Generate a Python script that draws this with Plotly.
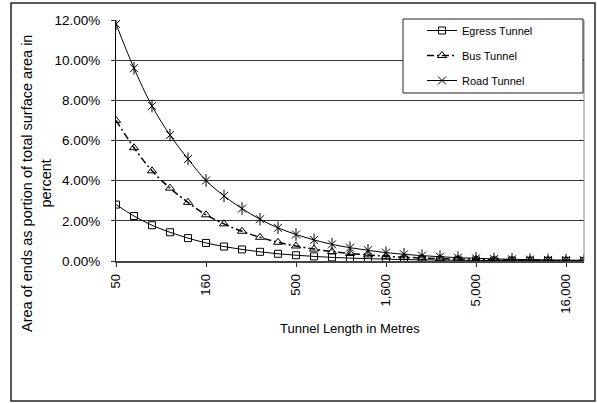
import plotly.graph_objects as go

# Tunnel lengths (category axis)
lengths = ["50", "63", "80", "100", "125", "160", "200", "250", "315", "400",
           "500", "630", "800", "1000", "1250", "1600", "2000", "2500", "3150",
           "4000", "5000", "6300", "8000", "10000", "12500", "16000", "20000"]
tick_vals = ["50", "160", "500", "1600", "5000", "16000"]
tick_text = ["50", "160", "500", "1,600", "5,000", "16,000"]
y_tick_vals = [0, 2, 4, 6, 8, 10, 12]
y_tick_text = ["0.00%", "2.00%", "4.00%", "6.00%", "8.00%", "10.00%", "12.00%"]

# Values in percent
egress = [2.81, 2.24, 1.78, 1.43, 1.14, 0.90, 0.72, 0.575, 0.457, 0.360,
          0.288, 0.229, 0.180, 0.144, 0.116, 0.090, 0.072, 0.058, 0.046,
          0.036, 0.029, 0.023, 0.018, 0.014, 0.012, 0.009, 0.007]
bus = [7.00, 5.64, 4.49, 3.63, 2.92, 2.30, 1.85, 1.48, 1.18, 0.932,
       0.747, 0.594, 0.468, 0.375, 0.300, 0.235, 0.188, 0.150, 0.119,
       0.094, 0.075, 0.060, 0.047, 0.038, 0.030, 0.024, 0.019]
road = [11.80, 9.60, 7.72, 6.27, 5.08, 4.01, 3.24, 2.61, 2.08, 1.65,
        1.32, 1.05, 0.829, 0.664, 0.532, 0.416, 0.333, 0.267, 0.212,
        0.167, 0.134, 0.106, 0.084, 0.067, 0.054, 0.042, 0.033]

FONT = "Liberation Sans, Arial, sans-serif"

fig = go.Figure()
fig.add_trace(go.Scatter(
    x=lengths, y=egress, name="Egress Tunnel", mode="lines+markers",
    legendgroup="e",
    line=dict(color="black", width=1, shape="spline"),
    marker=dict(symbol="square-open", size=7, color="black", line=dict(width=1))))
fig.add_trace(go.Scatter(
    x=lengths, y=bus, name="Bus Tunnel", mode="lines+markers",
    legendgroup="b",
    line=dict(color="black", width=1.5, shape="spline", dash="7px,3px,2px,3px"),
    marker=dict(symbol="triangle-up-open", size=8, color="black", line=dict(width=1))))
fig.add_trace(go.Scatter(
    x=lengths, y=road, name="Road Tunnel", mode="lines+markers",
    legendgroup="r",
    line=dict(color="black", width=1, shape="spline"),
    marker=dict(symbol="x-thin-open", size=8, color="black", line=dict(width=1, color="black"))))
fig.add_trace(go.Scatter(
    x=lengths, y=road, mode="markers", showlegend=False, legendgroup="r",
    marker=dict(symbol="line-ns-open", size=9, color="black", line=dict(width=1, color="black"))))

# pixel -> paper helpers (plot area: x 116..584, y 20..261)
def px(x):
    return (x - 116) / 468.0

def py(y):
    return (261 - y) / 241.0

fig.update_layout(
    width=597, height=403, autosize=False,
    margin=dict(l=116, r=13, t=20, b=142, pad=0),
    paper_bgcolor="white", plot_bgcolor="white",
    font=dict(family=FONT, size=13, color="black"),
    showlegend=True,
    legend=dict(x=px(422), y=py(16), xanchor="left", yanchor="top",
                bgcolor="rgba(0,0,0,0)", borderwidth=0,
                font=dict(size=11, family=FONT), tracegroupgap=6,
                traceorder="grouped"),
    xaxis=dict(type="category", range=[0, 26], tickmode="array",
               tickvals=tick_vals, ticktext=tick_text, tickangle=-90,
               ticks="outside", ticklen=4, tickcolor="#333",
               showgrid=False, showline=True, linecolor="#444", linewidth=1.5,
               tickfont=dict(size=13), zeroline=False, ticklabelstandoff=2),
    yaxis=dict(range=[0, 12], tickmode="array",
               tickvals=y_tick_vals, ticktext=y_tick_text,
               ticks="outside", ticklen=4, tickcolor="#333",
               showgrid=True, gridcolor="#333", gridwidth=1,
               showline=True, linecolor="black", linewidth=1,
               zeroline=False, tickfont=dict(size=13.5), ticklabelstandoff=8),
    shapes=[
        # outer chart border
        dict(type="rect", xref="paper", yref="paper",
             x0=px(11), x1=px(595), y0=py(401), y1=py(3),
             line=dict(color="#222", width=1.5), fillcolor="rgba(0,0,0,0)", layer="above"),
        # plot area right border
        dict(type="line", xref="paper", yref="paper", x0=1, x1=1, y0=0, y1=1,
             line=dict(color="#888", width=1), layer="above"),
        # legend box
        dict(type="rect", xref="paper", yref="paper",
             x0=px(403), x1=px(583), y0=py(93), y1=py(19),
             line=dict(color="#222", width=1), fillcolor="white", layer="above"),
    ],
    annotations=[
        dict(text="Area of ends as portion of total surface area in<br>percent",
             xref="paper", yref="paper", x=px(36), y=py(184),
             xanchor="center", yanchor="middle", textangle=-90, showarrow=False,
             align="center", font=dict(size=14.5, family=FONT)),
        dict(text="Tunnel Length in Metres", xref="paper", yref="paper",
             x=px(350), y=py(328), xanchor="center", yanchor="middle",
             showarrow=False, font=dict(size=13, family=FONT)),
    ],
)

fig.write_html("out.html", config={"displayModeBar": False},
               post_script="document.body.style.margin='0';document.body.style.padding='0';")
